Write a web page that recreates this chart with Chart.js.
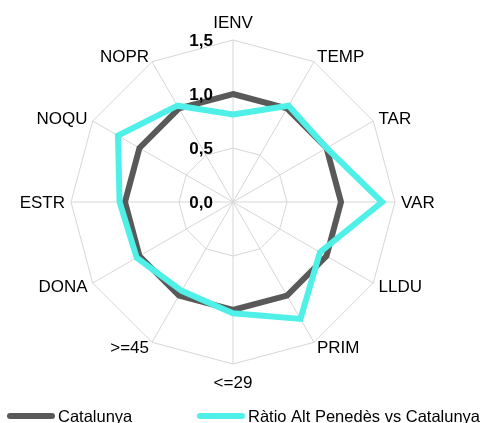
<!DOCTYPE html>
<html>
<head>
<meta charset="utf-8">
<script src="https://cdn.jsdelivr.net/npm/chart.js@4"></script>
<style>
  html, body { margin: 0; padding: 0; background: #fff; }
  #wrap { width: 482px; height: 423px; }
</style>
</head>
<body>
<div id="wrap"><canvas id="chart"></canvas></div>
<script>
const categories = ['IENV', 'TEMP', 'TAR', 'VAR', 'LLDU', 'PRIM', '<=29', '>=45', 'DONA', 'ESTR', 'NOQU', 'NOPR']
const catalunya = [1, 1, 1, 1, 1, 1, 1, 1, 1, 1, 1, 1]
const altPenedes = [0.81, 1.03, 1.0, 1.38, 0.93, 1.25, 1.03, 0.95, 1.03, 1.05, 1.23, 1.03]
const tickValues = [0, 0.5, 1.0, 1.5]

const FONT = '"Liberation Sans", Arial, sans-serif'
const fmt = v => v.toFixed(1).replace('.', ',')

// tick labels sit left of the vertical axis, point labels hug the outer ring
const radarLabels = {
  id: 'radarLabels',
  afterDraw (chart) {
    const s = chart.scales.r
    const ctx = chart.ctx
    ctx.save()
    ctx.fillStyle = '#000'
    ctx.textBaseline = 'middle'

    ctx.font = 'bold 17px ' + FONT
    ctx.textAlign = 'right'
    tickValues.forEach(v => {
      const y = s.yCenter - s.getDistanceFromCenterForValue(v)
      ctx.fillText(fmt(v), s.xCenter - 20, y + 1)
    })

    ctx.font = '17px ' + FONT
    chart.data.labels.forEach((label, i) => {
      const p = s.getPointPosition(i, s.drawingArea + 6)
      const dx = p.x - s.xCenter
      const dy = p.y - s.yCenter
      let y = p.y
      if (Math.abs(dx) < 1) {
        ctx.textAlign = 'center'
        y += dy < 0 ? -12 : 12
      } else {
        ctx.textAlign = dx > 0 ? 'left' : 'right'
      }
      ctx.fillText(label, p.x, y + 1)
    })
    ctx.restore()
  }
}

// legend spread out along the bottom
const legendX = [7, 197]
const bottomLegend = {
  id: 'bottomLegend',
  afterDraw (chart) {
    const ctx = chart.ctx
    const y = 416
    ctx.save()
    ctx.font = '16.5px ' + FONT
    ctx.textBaseline = 'middle'
    chart.data.datasets.forEach((ds, i) => {
      const x = legendX[i]
      ctx.strokeStyle = ds.borderColor
      ctx.lineWidth = ds.borderWidth
      ctx.lineCap = 'round'
      ctx.beginPath()
      ctx.moveTo(x + 3, y)
      ctx.lineTo(x + 45, y)
      ctx.stroke()
      ctx.fillStyle = '#000'
      ctx.fillText(ds.label, x + 51, y + 1)
    })
    ctx.restore()
  }
}

new Chart(document.getElementById('chart'), {
  type: 'radar',
  data: {
    labels: categories,
    datasets: [{
      label: 'Catalunya',
      data: catalunya,
      borderColor: '#595959',
      backgroundColor: '#595959',
      borderWidth: 6,
      fill: false,
      pointRadius: 0,
      order: 1
    }, {
      label: 'Ràtio Alt Penedès vs Catalunya',
      data: altPenedes,
      borderColor: '#4ef0e8',
      backgroundColor: '#4ef0e8',
      borderWidth: 6,
      fill: false,
      pointRadius: 0,
      order: 0
    }]
  },
  options: {
    responsive: true,
    maintainAspectRatio: false,
    animation: false,
    layout: { padding: { left: 0, right: 15, top: 40, bottom: 59 } },
    scales: {
      r: {
        min: 0,
        max: 1.5,
        ticks: { display: false, stepSize: 0.5 },
        grid: { color: '#d6d6d6', lineWidth: 1 },
        angleLines: { color: '#d6d6d6', lineWidth: 1 },
        pointLabels: { display: false }
      }
    },
    plugins: {
      tooltip: { enabled: false },
      legend: { display: false }
    }
  },
  plugins: [radarLabels, bottomLegend]
})
</script>
</body>
</html>
